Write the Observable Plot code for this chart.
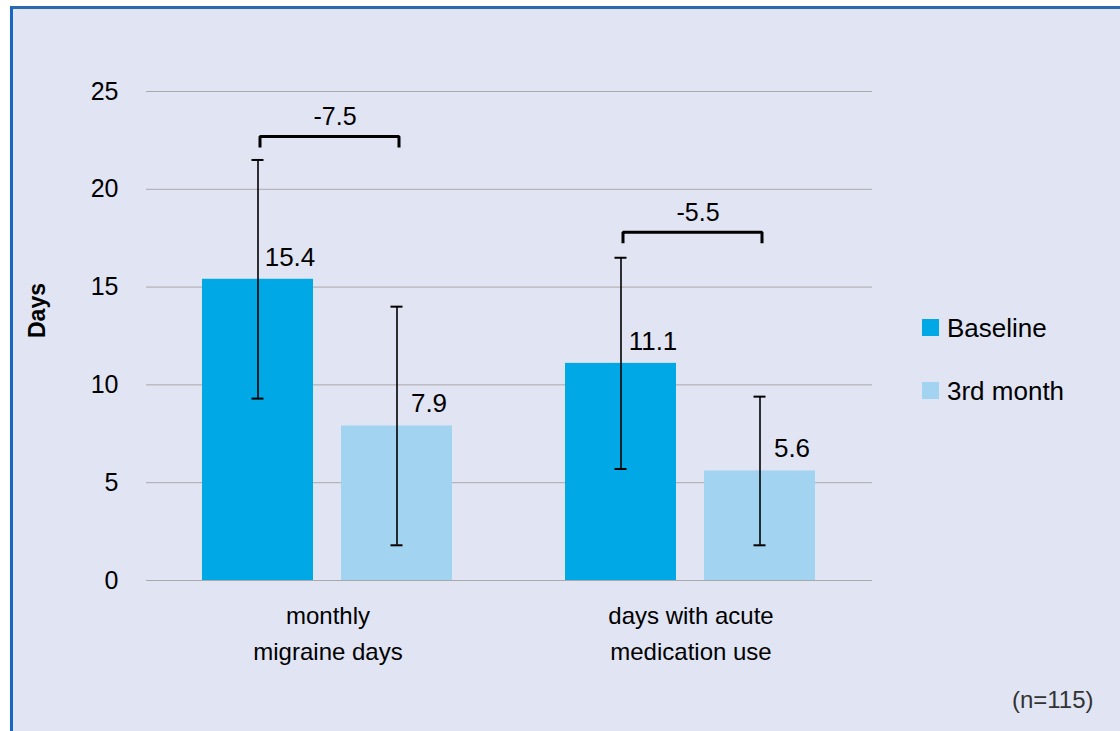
<!DOCTYPE html>
<html>
<head>
<meta charset="utf-8">
<script src="https://cdn.jsdelivr.net/npm/d3@7"></script>
<script src="https://cdn.jsdelivr.net/npm/@observablehq/plot@0.6"></script>
<style>
  html, body { margin: 0; padding: 0; background: #fff; }
  #wrap { position: relative; width: 1120px; height: 731px; overflow: hidden; font-family: "Liberation Sans", Arial, sans-serif; }
  #panel { position: absolute; left: 10px; top: 6px; width: 1130px; height: 740px; box-sizing: border-box;
           border-left: 3px solid #1766c0; border-top: 3px solid #2a6aae; background: #e1e4f3; }
  #chart { position: absolute; left: 0; top: 0; }
  .leg { position: absolute; font-size: 26px; color: #000; line-height: 1; }
  .sw { position: absolute; width: 17px; height: 17px; }
</style>
</head>
<body>
<div id="wrap">
  <div id="panel"></div>
  <div id="chart"></div>
  <div id="legend"></div>
</div>
<script>
const groups = ["monthly\nmigraine days", "days with acute\nmedication use"];
const series = ["Baseline", "3rd month"];
const baselineMean = [15.4, 11.1];
const month3Mean = [7.9, 5.6];
const baselineSD = [6.1, 5.4];
const month3SD = [6.1, 3.8];
const changeLabels = ["-7.5", "-5.5"];
const bracketLevel = [22.7, 17.8];
const yTicks = [0, 5, 10, 15, 20, 25];
const colors = ["#00a9e6", "#a2d4f2"];
const sampleNote = "(n=115)";
const yLabel = "Days";

const rows = groups.flatMap((g, i) => [
  {group: g, series: series[0], value: baselineMean[i], sd: baselineSD[i]},
  {group: g, series: series[1], value: month3Mean[i], sd: month3SD[i]}
]);
const bracketRows = groups.flatMap((g, i) => [
  {group: g, series: series[0], y: bracketLevel[i] - 0.56},
  {group: g, series: series[0], y: bracketLevel[i]},
  {group: g, series: series[1], y: bracketLevel[i]},
  {group: g, series: series[1], y: bracketLevel[i] - 0.56}
]);
const changeRows = groups.map((g, i) => ({group: g, level: bracketLevel[i], label: changeLabels[i]}));
const groupRows = groups.map(g => ({group: g}));

const chart = Plot.plot({
  width: 1120,
  height: 731,
  marginLeft: 146,
  marginRight: 248,
  marginTop: 91,
  marginBottom: 151,
  style: {background: "transparent", fontFamily: "'Liberation Sans', Arial, sans-serif", fontSize: "24px", color: "#000", overflow: "visible"},
  fx: {domain: groups, padding: 0, axis: null},
  x: {domain: series, paddingInner: 0.2, paddingOuter: 0.4, axis: null},
  y: {domain: [0, 25], axis: null},
  color: {domain: series, range: colors},
  marks: [
    Plot.gridY({ticks: yTicks, stroke: "#a9a9a9", strokeOpacity: 1, strokeWidth: 1}),
    Plot.axisY({ticks: yTicks, tickSize: 0, tickPadding: 28, label: null, fontSize: 25, fill: "#000"}),
    Plot.barY(rows, {fx: "group", x: "series", y: "value", fill: "series"}),
    Plot.ruleX(rows, {fx: "group", x: "series", y1: d => d.value - d.sd, y2: d => d.value + d.sd, stroke: "#000", strokeWidth: 1.6}),
    Plot.tickY(rows, {fx: "group", x: "series", y: d => d.value - d.sd, insetLeft: 49.5, insetRight: 49.5, stroke: "#000", strokeWidth: 2}),
    Plot.tickY(rows, {fx: "group", x: "series", y: d => d.value + d.sd, insetLeft: 49.5, insetRight: 49.5, stroke: "#000", strokeWidth: 2}),
    Plot.text(rows, {fx: "group", x: "series", y: "value", text: d => d.value.toFixed(1), dx: 32, dy: -22, fontSize: 26, fill: "#000"}),
    Plot.line(bracketRows, {fx: "group", x: "series", y: "y", z: "group", stroke: "#000", strokeWidth: 3, strokeLinejoin: "miter", strokeLinecap: "butt", dx: 2}),
    Plot.text(changeRows, {fx: "group", y: "level", text: "label", dx: 7, dy: -19, fontSize: 25, fill: "#000"}),
    Plot.text(groupRows, {fx: "group", text: "group", frameAnchor: "bottom", lineAnchor: "top", dy: 18, lineHeight: 1.5, fontSize: 24, fill: "#000"}),
    Plot.text([{group: groups[0]}], {fx: "group", text: () => yLabel, frameAnchor: "left", dx: -109, dy: 2, rotate: -90, fontWeight: "bold", fontSize: 23, fill: "#000"}),
    Plot.text([{group: groups[1]}], {fx: "group", text: () => sampleNote, frameAnchor: "bottom-right", dx: 221, dy: 127, textAnchor: "end", fontSize: 24, fill: "#333"})
  ]
});
document.getElementById("chart").append(chart);

// legend
const legend = document.getElementById("legend");
series.forEach((s, i) => {
  const top = 319 + i * 63;
  const sw = document.createElement("div");
  sw.className = "sw";
  sw.style.left = "922px";
  sw.style.top = top + "px";
  sw.style.background = colors[i];
  legend.append(sw);
  const t = document.createElement("div");
  t.className = "leg";
  t.style.left = "947px";
  t.style.top = (top - 4) + "px";
  t.textContent = s;
  legend.append(t);
});
</script>
</body>
</html>
